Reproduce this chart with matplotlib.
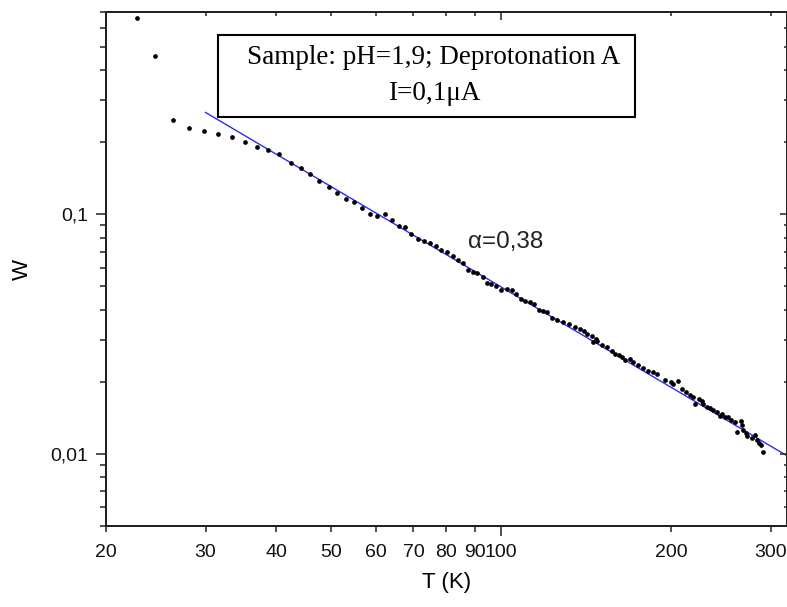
import matplotlib
matplotlib.use("Agg")
import matplotlib.pyplot as plt
from matplotlib.ticker import FixedLocator, NullFormatter, FuncFormatter, LogLocator
from matplotlib.patches import Rectangle

# measured points, T in K, W (dimensionless)
T = [22.67, 24.42, 26.25, 28.04, 29.81, 31.60, 33.46, 35.24, 37.00, 38.75,
     40.52, 42.45, 44.21, 45.92, 47.70, 49.62, 51.32, 53.17, 54.94, 56.76,
     58.64, 60.41, 62.26, 64.06, 65.91, 67.54, 69.38, 71.21, 73.06, 74.87,
     76.63, 78.30, 80.14, 82.12, 83.92, 85.75, 87.41, 89.10, 90.78, 92.80,
     94.56, 96.11, 97.96, 99.86, 102.3, 104.4, 106.3, 108.3, 110.4, 112.5,
     114.4, 116.6, 118.8, 120.7, 123.1, 125.4, 128.9, 132.1, 135.2, 137.9,
     140.2, 142.1, 144.9, 145.6, 147.2, 148.0, 150.7, 153.8, 157.0, 159.1,
     161.9, 163.7, 165.7, 169.1, 171.4, 174.9, 178.5, 182.2, 185.5, 188.5,
     195.0, 199.6, 201.7, 205.6, 208.7, 212.4, 215.9, 218.3, 220.3, 224.2,
     226.5, 228.0, 231.1, 234.3, 237.5, 240.7, 244.0, 245.7, 249.0, 252.4,
     254.8, 259.4, 261.2, 265.5, 266.6, 268.3, 271.3, 272.7, 277.6, 281.4,
     283.3, 286.4, 288.0, 290.4]
W = [0.6616, 0.4605, 0.2467, 0.2299, 0.2226, 0.2171, 0.2096, 0.2010, 0.1904, 0.1862,
     0.1785, 0.1637, 0.1566, 0.1469, 0.1373, 0.1300, 0.1227, 0.1163, 0.1125, 0.1066,
     0.1000, 0.0988, 0.1000, 0.0944, 0.0894, 0.0885, 0.0825, 0.0787, 0.0774, 0.0759,
     0.0740, 0.0713, 0.0694, 0.0668, 0.0647, 0.0626, 0.0588, 0.0575, 0.0569, 0.0548,
     0.0517, 0.0514, 0.0501, 0.0485, 0.0488, 0.0485, 0.0467, 0.0445, 0.0435, 0.0432,
     0.0421, 0.0400, 0.0395, 0.0390, 0.0371, 0.0364, 0.0355, 0.0347, 0.0338, 0.0331,
     0.0327, 0.0318, 0.0311, 0.0292, 0.0303, 0.0295, 0.0286, 0.0279, 0.0270, 0.0262,
     0.0260, 0.0254, 0.0246, 0.0250, 0.0241, 0.0236, 0.0228, 0.0221, 0.0220, 0.0215,
     0.0204, 0.0200, 0.0195, 0.0202, 0.0187, 0.0181, 0.0177, 0.0172, 0.0161, 0.0169,
     0.0166, 0.0162, 0.0157, 0.0155, 0.0152, 0.0150, 0.0144, 0.0147, 0.0143, 0.0142,
     0.0139, 0.0136, 0.0124, 0.0137, 0.0132, 0.0126, 0.0122, 0.0119, 0.0117, 0.0120,
     0.0114, 0.0111, 0.0109, 0.0102]

# power-law fit (endpoints of the drawn line)
fit_T = [30.0, 320.0]
fit_W = [0.2665, 0.00985]

x_ticks = [20, 30, 40, 50, 60, 70, 80, 90, 200, 300]
y_ticks = [0.01, 0.1]
y_labels = ["0,01", "0,1"]

plt.rcParams['font.family'] = ['Liberation Sans', 'DejaVu Sans']

fig = plt.figure(figsize=(7.87, 6.07), dpi=100)
ax = fig.add_axes([106/787, 1 - 526/607, 681/787, 514/607])

ax.plot(T, W, 'o', color='black', ms=3.4, mew=0, zorder=3)
ax.plot(fit_T, fit_W, color='#2a2aff', lw=1.0, zorder=2)

ax.set_xscale('log')
ax.set_yscale('log')
ax.set_xlim(20, 320.6)
ax.set_ylim(0.005, 0.7)

# x axis: every listed tick gets a label
ax.xaxis.set_major_locator(FixedLocator([100]))
ax.xaxis.set_minor_locator(FixedLocator(x_ticks))
ax.xaxis.set_major_formatter(FuncFormatter(lambda v, p: "%d" % v))
ax.xaxis.set_minor_formatter(FuncFormatter(lambda v, p: "%d" % v))

ax.yaxis.set_major_locator(FixedLocator(y_ticks))
ax.yaxis.set_major_formatter(FuncFormatter(lambda v, p: y_labels[y_ticks.index(round(v, 3))] if round(v, 3) in y_ticks else ""))
ax.yaxis.set_minor_locator(LogLocator(base=10, subs=range(2, 10)))
ax.yaxis.set_minor_formatter(NullFormatter())

ax.tick_params(which='both', direction='out', top=False, right=False,
               labelsize=14, color='#222222', width=1.1, labelcolor='#111111')
ax.tick_params(which='major', length=7, pad=6)
ax.tick_params(which='minor', length=4.3, pad=8.7)
for s in ax.spines.values():
    s.set_linewidth(1.3)
    s.set_color('#222222')

# top and right ticks pointing inward
axt = ax.twiny()
axt.set_xscale('log')
axt.set_xlim(ax.get_xlim())
axt.xaxis.set_major_locator(FixedLocator([100]))
axt.xaxis.set_minor_locator(FixedLocator(x_ticks))
axt.tick_params(which='both', direction='in', labeltop=False, color='#222222', width=1.1)
axt.tick_params(which='major', length=6)
axt.tick_params(which='minor', length=3)

axr = ax.twinx()
axr.set_yscale('log')
axr.set_ylim(ax.get_ylim())
axr.yaxis.set_major_locator(FixedLocator(y_ticks))
axr.yaxis.set_minor_locator(LogLocator(base=10, subs=range(2, 10)))
axr.tick_params(which='both', direction='in', labelright=False, color='#222222', width=1.1)
axr.tick_params(which='major', length=5)
axr.tick_params(which='minor', length=2)
for a in (axt, axr):
    for s in a.spines.values():
        s.set_linewidth(1.3)
        s.set_color('#222222')

ax.set_xlabel("T (K)", fontsize=16, labelpad=8)
ax.set_ylabel("W", fontsize=16, labelpad=12)

ax.text(87.4, 0.0764, "\u03b1=0,38", fontsize=17.5, ha='left', va='center', color='#222222')

# annotation box
fig.patches.append(Rectangle((218/787, 1 - 117/607), 417/787, 82/607,
                             transform=fig.transFigure, fill=False, lw=1.5, ec='black'))
fig.text(434/787, 1 - 58/607, "Sample: pH=1,9; Deprotonation A", family='Liberation Serif',
         fontsize=19.5, ha='center', va='center')
fig.text(434/787, 1 - 94/607, "I=0,1\u03bcA", family='Liberation Serif',
         fontsize=19.5, ha='center', va='center')

fig.savefig("out.png", dpi=100)
